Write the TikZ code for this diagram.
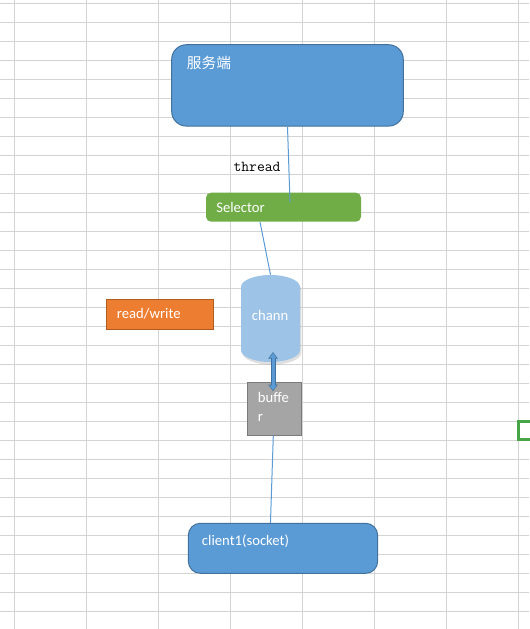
\documentclass[tikz,border=0pt]{standalone}
\usepackage{fontspec}
\setmainfont{Carlito}
\newfontfamily\cjkfont{Noto Sans CJK SC}
\usepackage{tikz}
\usetikzlibrary{arrows.meta,shadows}
\definecolor{gridgray}{HTML}{D4D4D4}
\definecolor{boxblue}{HTML}{5B9BD5}
\definecolor{boxedge}{HTML}{41719C}
\definecolor{selgreen}{HTML}{70AD47}
\definecolor{channblue}{HTML}{9DC3E6}
\definecolor{rworange}{HTML}{ED7D31}
\definecolor{rwedge}{HTML}{AE5A21}
\definecolor{bufgray}{HTML}{A5A5A5}
\definecolor{bufedge}{HTML}{7A7A7A}
\definecolor{cellgreen}{HTML}{47A447}

\begin{document}
\begin{tikzpicture}[x=0.75pt,y=-0.75pt,
  box/.style={rounded corners=11pt,fill=boxblue,draw=boxedge,line width=0.75pt},
  lbl/.style={text=white,anchor=west,inner sep=0pt,font=\fontsize{11}{14.25}\selectfont},
  link/.style={draw=boxblue,line width=0.75pt}]
\fill[white] (0,0) rectangle (529,629);
\useasboundingbox (0,0) rectangle (529,629);
\foreach \gy in {3,22,...,630} \draw[gridgray,line width=0.75pt] (0,\gy) -- (529,\gy);
\foreach \gx in {14,86,...,518} \draw[gridgray,line width=0.75pt] (\gx,0) -- (\gx,629);
\draw[cellgreen,line width=2.25pt] (530,421.5) -- (518.3,421.5) -- (518.3,439.5) -- (530,439.5);

\node[box,minimum width=173.7pt,minimum height=61pt] (srv) at (287.5,85.4) {};
\node[lbl,font=\cjkfont\fontsize{11}{14}\selectfont] (srvtxt) at (186.7,63.3) {服务端};
\node[font=\ttfamily\fontsize{11.4}{13}\selectfont,anchor=west,inner sep=0pt] (thread) at (233.3,166.7) {thread};

\node[fill=selgreen,rounded corners=3.75pt,minimum width=116.25pt,minimum height=21.75pt] (sel) at (283.5,207.2) {};
\node[lbl] (seltxt) at (216,207.7) {Selector};
\coordinate (selin) at (290,202);

% channel
\fill[channblue,drop shadow={shadow xshift=1pt,shadow yshift=-2pt,opacity=.25}] (241,287) -- (241,350)
  arc[start angle=180,end angle=0,x radius=29.5,y radius=12] -- (300,287)
  arc[start angle=0,end angle=-180,x radius=29.5,y radius=12] -- cycle;
\node[minimum width=44.25pt,minimum height=65.25pt,inner sep=0pt] (chann) at (270.5,318.5) {};
\node[lbl] (channtxt) at (251.7,315) {chann};

\node[fill=rworange,draw=rwedge,line width=0.75pt,minimum width=80.8pt,minimum height=22.5pt] (rw) at (159.9,314.3) {};
\node[lbl] (rwtxt) at (116.7,313.8) {read/write};

\node[fill=bufgray,draw=bufedge,line width=0.75pt,minimum width=40.8pt,minimum height=39.5pt] (buf) at (274.5,408.7) {};
\node[lbl,align=left,anchor=north west] (buftxt) at (257.7,391.7) {buffe\\r};

\node[box,rounded corners=9pt,minimum width=142pt,minimum height=37.5pt] (cli) at (283,548.3) {};
\node[lbl] (clitxt) at (201.7,541.2) {client1(socket)};

\draw[link] (srv.south) -- (selin);
\draw[link] ([xshift=-17.6pt]sel.south) -- (chann.north);
\draw[link] ([xshift=-0.9pt]buf.south) -- ([xshift=-9.4pt]cli.north);
\draw[boxedge,line width=3.75pt,{Triangle[width=7pt,length=5pt]}-{Triangle[width=7pt,length=5pt]},shorten <=-7.7pt,shorten >=-7pt] ([xshift=1.9pt]chann.south) -- ([xshift=-1.1pt]buf.north);
\draw[boxblue,line width=2.25pt,{Triangle[width=5pt,length=3.6pt]}-{Triangle[width=5pt,length=3.6pt]},shorten <=-6.9pt,shorten >=-6.2pt] ([xshift=1.9pt]chann.south) -- ([xshift=-1.1pt]buf.north);
\end{tikzpicture}
\end{document}
